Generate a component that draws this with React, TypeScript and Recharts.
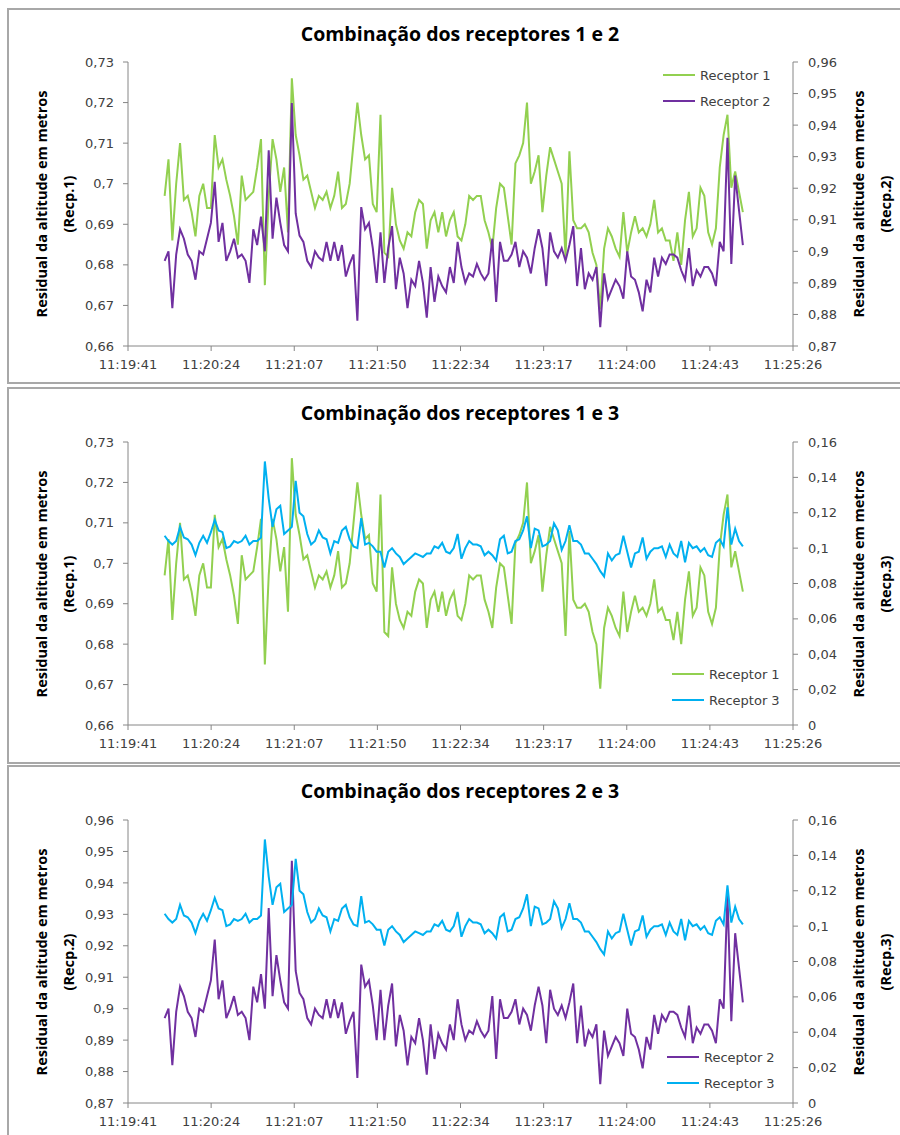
import { LineChart, Line, XAxis, YAxis, Legend } from 'recharts';

// x axis: seconds after 11:19:41
const TIME_LABELS = ['11:19:41', '11:20:24', '11:21:07', '11:21:50', '11:22:34', '11:23:17', '11:24:00', '11:24:43', '11:25:26'];
const AXIS_SPAN = 345;
const FIRST_SAMPLE = 19; // 11:20:00
const SAMPLE_STEP = 2;

const RECEPTOR_1 = [
  0.697, 0.706, 0.686, 0.700, 0.710, 0.696, 0.697, 0.693, 0.687, 0.697,
  0.700, 0.694, 0.694, 0.712, 0.704, 0.706, 0.701, 0.697, 0.692, 0.685,
  0.702, 0.696, 0.697, 0.698, 0.704, 0.711, 0.675, 0.697, 0.711, 0.706,
  0.698, 0.704, 0.688, 0.726, 0.712, 0.707, 0.701, 0.702, 0.698, 0.694,
  0.697, 0.696, 0.698, 0.694, 0.697, 0.703, 0.694, 0.695, 0.700, 0.710,
  0.720, 0.712, 0.706, 0.707, 0.695, 0.693, 0.717, 0.683, 0.682, 0.699,
  0.690, 0.686, 0.684, 0.688, 0.687, 0.693, 0.696, 0.695, 0.684, 0.691,
  0.693, 0.688, 0.693, 0.687, 0.691,
  0.693, 0.687, 0.686, 0.690, 0.697, 0.696, 0.697, 0.697, 0.691, 0.688,
  0.684, 0.694, 0.700, 0.699, 0.692, 0.685, 0.705, 0.707, 0.710, 0.720,
  0.700, 0.703, 0.707, 0.693, 0.702, 0.709, 0.706, 0.703, 0.700, 0.682,
  0.708, 0.691, 0.689, 0.689, 0.690, 0.688, 0.683, 0.680, 0.669, 0.684,
  0.689, 0.687, 0.684, 0.682, 0.693, 0.683, 0.688, 0.692, 0.688, 0.689,
  0.687, 0.690, 0.696, 0.688, 0.689, 0.686, 0.686, 0.681, 0.688, 0.680,
  0.691, 0.698, 0.687, 0.689, 0.699, 0.697, 0.688, 0.685, 0.689, 0.704,
  0.712, 0.717, 0.699, 0.703, 0.698, 0.693,
];

const RECEPTOR_2 = [
  0.897, 0.900, 0.882, 0.899, 0.907, 0.904, 0.899, 0.897, 0.891, 0.900,
  0.899, 0.904, 0.909, 0.922, 0.903, 0.909, 0.897, 0.900, 0.904, 0.898,
  0.899, 0.897, 0.890, 0.907, 0.902, 0.911, 0.900, 0.932, 0.904, 0.917,
  0.909, 0.902, 0.900, 0.947, 0.912, 0.905, 0.903, 0.897, 0.895, 0.900,
  0.898, 0.897, 0.903, 0.897, 0.903, 0.897, 0.902, 0.892, 0.896, 0.899,
  0.878, 0.914, 0.907, 0.909, 0.901, 0.890, 0.906, 0.890, 0.901, 0.908,
  0.888, 0.898, 0.893, 0.882, 0.891, 0.889, 0.897, 0.890, 0.879, 0.895,
  0.884, 0.892, 0.889, 0.887, 0.895,
  0.890, 0.903, 0.895, 0.890, 0.893, 0.892, 0.896, 0.893, 0.891, 0.893,
  0.904, 0.884, 0.903, 0.897, 0.897, 0.899, 0.903, 0.895, 0.900, 0.898,
  0.893, 0.901, 0.907, 0.901, 0.889, 0.906, 0.900, 0.898, 0.901, 0.897,
  0.902, 0.908, 0.889, 0.901, 0.888, 0.893, 0.891, 0.895, 0.876, 0.893,
  0.885, 0.888, 0.891, 0.889, 0.885, 0.900, 0.892, 0.891, 0.887, 0.881,
  0.891, 0.887, 0.898, 0.892, 0.898, 0.896, 0.899, 0.899, 0.898, 0.894,
  0.891, 0.901, 0.889, 0.894, 0.892, 0.895, 0.895, 0.893, 0.889, 0.903,
  0.900, 0.936, 0.896, 0.924, 0.913, 0.902,
];

const RECEPTOR_3 = [
  0.107, 0.104, 0.102, 0.104, 0.112, 0.106, 0.105, 0.102, 0.096, 0.103,
  0.107, 0.103, 0.109, 0.116, 0.110, 0.109, 0.100, 0.101, 0.104, 0.103,
  0.104, 0.107, 0.102, 0.104, 0.104, 0.106, 0.149, 0.128, 0.112, 0.122,
  0.124, 0.108, 0.110, 0.112, 0.138, 0.120, 0.118, 0.108, 0.102, 0.104,
  0.110, 0.106, 0.105, 0.097, 0.104, 0.103, 0.110, 0.112, 0.105, 0.101,
  0.100, 0.117, 0.102, 0.103, 0.101, 0.098, 0.098, 0.089, 0.098, 0.100,
  0.097, 0.095, 0.091, 0.093, 0.095, 0.097, 0.096, 0.095, 0.097, 0.097,
  0.101, 0.100, 0.103, 0.098, 0.097,
  0.100, 0.108, 0.094, 0.100, 0.104, 0.102, 0.102, 0.101, 0.096, 0.098,
  0.096, 0.093, 0.105, 0.107, 0.097, 0.098, 0.104, 0.105, 0.110, 0.118,
  0.100, 0.111, 0.110, 0.101, 0.102, 0.104, 0.114, 0.110, 0.099, 0.104,
  0.113, 0.104, 0.104, 0.102, 0.097, 0.097, 0.094, 0.091, 0.087, 0.084,
  0.097, 0.093, 0.096, 0.097, 0.107, 0.098, 0.089, 0.097, 0.098, 0.106,
  0.094, 0.098, 0.100, 0.100, 0.101, 0.095, 0.102, 0.097, 0.095, 0.104,
  0.092, 0.103, 0.100, 0.101, 0.098, 0.100, 0.096, 0.095, 0.103, 0.105,
  0.101, 0.123, 0.102, 0.111, 0.104, 0.101,
];

const TICKS_R1 = [0.66, 0.67, 0.68, 0.69, 0.7, 0.71, 0.72, 0.73];
const TICKS_R2 = [0.87, 0.88, 0.89, 0.9, 0.91, 0.92, 0.93, 0.94, 0.95, 0.96];
const TICKS_R3 = [0, 0.02, 0.04, 0.06, 0.08, 0.1, 0.12, 0.14, 0.16];

const rows = RECEPTOR_1.map((r1, i) => ({
  t: FIRST_SAMPLE + i * SAMPLE_STEP,
  r1,
  r2: RECEPTOR_2[i],
  r3: RECEPTOR_3[i],
}));

const xTicks = TIME_LABELS.map((_, i) => (i * AXIS_SPAN) / (TIME_LABELS.length - 1));

type SeriesDef = { key: 'r1' | 'r2' | 'r3'; name: string; color: string; ticks: number[]; tag: string };

const SERIES: Record<string, SeriesDef> = {
  r1: { key: 'r1', name: 'Receptor 1', color: '#92D050', ticks: TICKS_R1, tag: '(Recp.1)' },
  r2: { key: 'r2', name: 'Receptor 2', color: '#7030A0', ticks: TICKS_R2, tag: '(Recp.2)' },
  r3: { key: 'r3', name: 'Receptor 3', color: '#00B0F0', ticks: TICKS_R3, tag: '(Recp.3)' },
};

const AXIS_GRAY = '#868686';
const TICK_STYLE = { fill: '#404040', fontSize: 13, fontFamily: 'DejaVu Sans' };
const fmt = (v: number) => String(v).replace('.', ',');

const CHART_LEFT = 8;
const CHART_WIDTH = 890;
const Y_LEFT_W = 120;
const Y_RIGHT_W = 105;

function AxisTitle({ cx, cy, tag }: { cx: number; cy: number; tag: string }) {
  return (
    <div
      style={{
        position: 'absolute',
        left: cx,
        top: cy,
        transform: 'translate(-50%, -50%) rotate(-90deg)',
        whiteSpace: 'nowrap',
        textAlign: 'center',
        fontFamily: 'Open Sans',
        fontWeight: 700,
        fontSize: 14.5,
        lineHeight: '27px',
        color: '#000',
      }}
    >
      Residual da altitude em metros
      <br />
      {tag}
    </div>
  );
}

interface PanelProps {
  title: string;
  left: SeriesDef;
  right: SeriesDef;
  frameTop: number;
  frameBottom: number;
  plotTop: number;
  plotBottom: number;
  legendX: number;
  legendY: number;
}

function Panel({ title, left, right, frameTop, frameBottom, plotTop, plotBottom, legendX, legendY }: PanelProps) {
  const height = frameBottom - frameTop;
  const midY = (plotTop + plotBottom) / 2;
  return (
    <>
      <div
        style={{
          position: 'absolute',
          left: 7,
          top: frameTop,
          width: 900,
          height: height - 2,
          border: '2px solid #a8a8a8',
          background: '#fff',
        }}
      />
      <div style={{ position: 'absolute', left: CHART_LEFT, top: frameTop }}>
        <LineChart
          width={CHART_WIDTH}
          height={height}
          data={rows}
          margin={{ top: plotTop - frameTop, right: 0, bottom: 0, left: 0 }}
        >
          <XAxis
            type="number"
            dataKey="t"
            domain={[0, AXIS_SPAN]}
            ticks={xTicks}
            interval={0}
            height={frameBottom - plotBottom}
            tickSize={5}
            tickMargin={9}
            axisLine={{ stroke: AXIS_GRAY }}
            tickLine={{ stroke: AXIS_GRAY }}
            tick={TICK_STYLE}
            tickFormatter={(v: number) => TIME_LABELS[Math.round(v / (AXIS_SPAN / 8))]}
          />
          <YAxis
            yAxisId="left"
            orientation="left"
            width={Y_LEFT_W}
            domain={[left.ticks[0], left.ticks[left.ticks.length - 1]]}
            ticks={left.ticks}
            interval={0}
            tickSize={5}
            tickMargin={9}
            axisLine={{ stroke: AXIS_GRAY }}
            tickLine={{ stroke: AXIS_GRAY }}
            tick={TICK_STYLE}
            tickFormatter={fmt}
          />
          <YAxis
            yAxisId="right"
            orientation="right"
            width={Y_RIGHT_W}
            domain={[right.ticks[0], right.ticks[right.ticks.length - 1]]}
            ticks={right.ticks}
            interval={0}
            tickSize={5}
            tickMargin={10}
            axisLine={{ stroke: AXIS_GRAY }}
            tickLine={{ stroke: AXIS_GRAY }}
            tick={TICK_STYLE}
            tickFormatter={fmt}
          />
          <Line
            yAxisId="left"
            type="linear"
            dataKey={left.key}
            name={left.name}
            stroke={left.color}
            strokeWidth={2}
            dot={false}
            isAnimationActive={false}
          />
          <Line
            yAxisId="right"
            type="linear"
            dataKey={right.key}
            name={right.name}
            stroke={right.color}
            strokeWidth={2}
            dot={false}
            isAnimationActive={false}
          />
          <Legend
            layout="vertical"
            align="center"
            verticalAlign="middle"
            wrapperStyle={{ left: legendX - CHART_LEFT, top: legendY - frameTop - 13, width: 'auto', height: 'auto' }}
            content={() => (
              <div style={{ fontFamily: 'DejaVu Sans', fontSize: 13, color: '#404040' }}>
                {[left, right].map((s) => (
                  <div key={s.key} style={{ display: 'flex', alignItems: 'center', height: 26 }}>
                    <span style={{ display: 'inline-block', width: 32, height: 2, background: s.color, marginRight: 5 }} />
                    <span>{s.name}</span>
                  </div>
                ))}
              </div>
            )}
          />
        </LineChart>
      </div>
      <div
        style={{
          position: 'absolute',
          left: 460,
          top: frameTop + 25,
          transform: 'translate(-50%, -50%)',
          whiteSpace: 'nowrap',
          fontFamily: 'Open Sans',
          fontWeight: 700,
          fontSize: 19.5,
          color: '#000',
        }}
      >
        {title}
      </div>
      <AxisTitle cx={55} cy={midY} tag={left.tag} />
      <AxisTitle cx={872} cy={midY} tag={right.tag} />
    </>
  );
}

export default function App() {
  return (
    <div style={{ position: 'absolute', left: 0, top: 0, width: 900, height: 1135, overflow: 'hidden', background: '#fff' }}>
      <Panel
        title="Combinação dos receptores 1 e 2"
        left={SERIES.r1}
        right={SERIES.r2}
        frameTop={8}
        frameBottom={382}
        plotTop={62}
        plotBottom={346}
        legendX={663}
        legendY={75}
      />
      <Panel
        title="Combinação dos receptores 1 e 3"
        left={SERIES.r1}
        right={SERIES.r3}
        frameTop={387}
        frameBottom={762}
        plotTop={442}
        plotBottom={725}
        legendX={672}
        legendY={674}
      />
      <Panel
        title="Combinação dos receptores 2 e 3"
        left={SERIES.r2}
        right={SERIES.r3}
        frameTop={765}
        frameBottom={1141}
        plotTop={820}
        plotBottom={1103}
        legendX={667}
        legendY={1057}
      />
    </div>
  );
}
